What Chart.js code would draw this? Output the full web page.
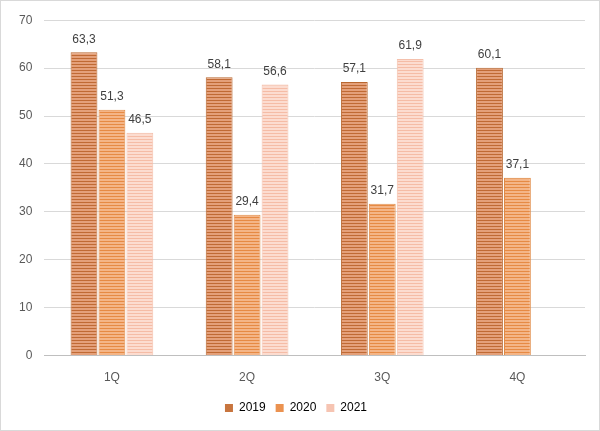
<!DOCTYPE html>
<html>
<head>
<meta charset="utf-8">
<script src="https://cdn.jsdelivr.net/npm/chart.js@4/dist/chart.umd.min.js"></script>
<style>
  html, body { margin: 0; padding: 0; background: #fff; }
  #wrap { position: relative; width: 598px; height: 429px; border: 1px solid #d9d9d9; }
</style>
</head>
<body>
<div id="wrap"><canvas id="chart"></canvas></div>
<script>
const categories = ['1Q', '2Q', '3Q', '4Q'];
const seriesNames = ['2019', '2020', '2021'];
const values2019 = [63.3, 58.1, 57.1, 60.1];
const values2020 = [51.3, 29.4, 31.7, 37.1];
const values2021 = [46.5, 56.6, 61.9, null];
const yTicks = [0, 10, 20, 30, 40, 50, 60, 70];

const STYLES = [
  { dark: '#c06a34', light: '#e4a07a', border: '#b8672f', legend: '#c8753e' },
  { dark: '#e68a44', light: '#f4b587', border: '#e08a45', legend: '#eb9250' },
  { dark: '#f5bca6', light: '#fcdcd0', border: '#f4c0ac', legend: '#f6c4b2' },
];

const FONT = '"Liberation Sans", Arial, sans-serif';

function stripes(s) {
  const c = document.createElement('canvas');
  c.width = 4;
  c.height = 3;
  const g = c.getContext('2d');
  g.fillStyle = s.light;
  g.fillRect(0, 0, 4, 3);
  g.fillStyle = s.dark;
  g.fillRect(0, 0, 4, 1);
  return g.createPattern(c, 'repeat');
}

const fmt = v => v.toFixed(1).replace('.', ',');

const valueLabels = {
  id: 'valueLabels',
  afterDatasetsDraw(chart) {
    const ctx = chart.ctx;
    ctx.save();
    ctx.font = '12px ' + FONT;
    ctx.fillStyle = '#404040';
    ctx.textAlign = 'center';
    ctx.textBaseline = 'bottom';
    chart.data.datasets.forEach((ds, i) => {
      chart.getDatasetMeta(i).data.forEach((bar, j) => {
        const v = ds.data[j];
        if (v == null) return;
        ctx.fillText(fmt(v), bar.x, bar.y - 7);
      });
    });
    ctx.restore();
  }
};

const allValues = [values2019, values2020, values2021];
const datasets = seriesNames.map((name, i) => ({
  label: name,
  data: allValues[i],
  backgroundColor: stripes(STYLES[i]),
  borderColor: STYLES[i].border,
  borderWidth: 1,
  borderSkipped: 'bottom',
  categoryPercentage: 0.62,
  barPercentage: 0.96,
}));

new Chart(document.getElementById('chart'), {
  type: 'bar',
  data: { labels: categories, datasets },
  plugins: [valueLabels],
  options: {
    responsive: true,
    maintainAspectRatio: false,
    animation: false,
    layout: { padding: { left: 6, right: 14, top: 3, bottom: 6 } },
    plugins: {
      tooltip: { enabled: false },
      legend: {
        position: 'bottom',
        labels: {
          boxWidth: 8,
          boxHeight: 8,
          padding: 10,
          color: '#595959',
          font: { size: 12, family: FONT },
          generateLabels(chart) {
            return seriesNames.map((n, i) => ({
              text: n,
              fillStyle: STYLES[i].legend,
              strokeStyle: STYLES[i].legend,
              lineWidth: 0,
              datasetIndex: i,
            }));
          },
        },
      },
    },
    scales: {
      x: {
        grid: { display: false },
        border: { color: '#bfbfbf', width: 1 },
        ticks: { color: '#595959', font: { size: 12, family: FONT }, padding: 7 },
      },
      y: {
        min: 0,
        max: 70,
        afterBuildTicks(axis) { axis.ticks = yTicks.map(v => ({ value: v })); },
        grid: { color: '#d9d9d9', drawTicks: false },
        border: { display: false },
        ticks: { color: '#595959', font: { size: 12, family: FONT }, padding: 12 },
      },
    },
  },
});
</script>
</body>
</html>
